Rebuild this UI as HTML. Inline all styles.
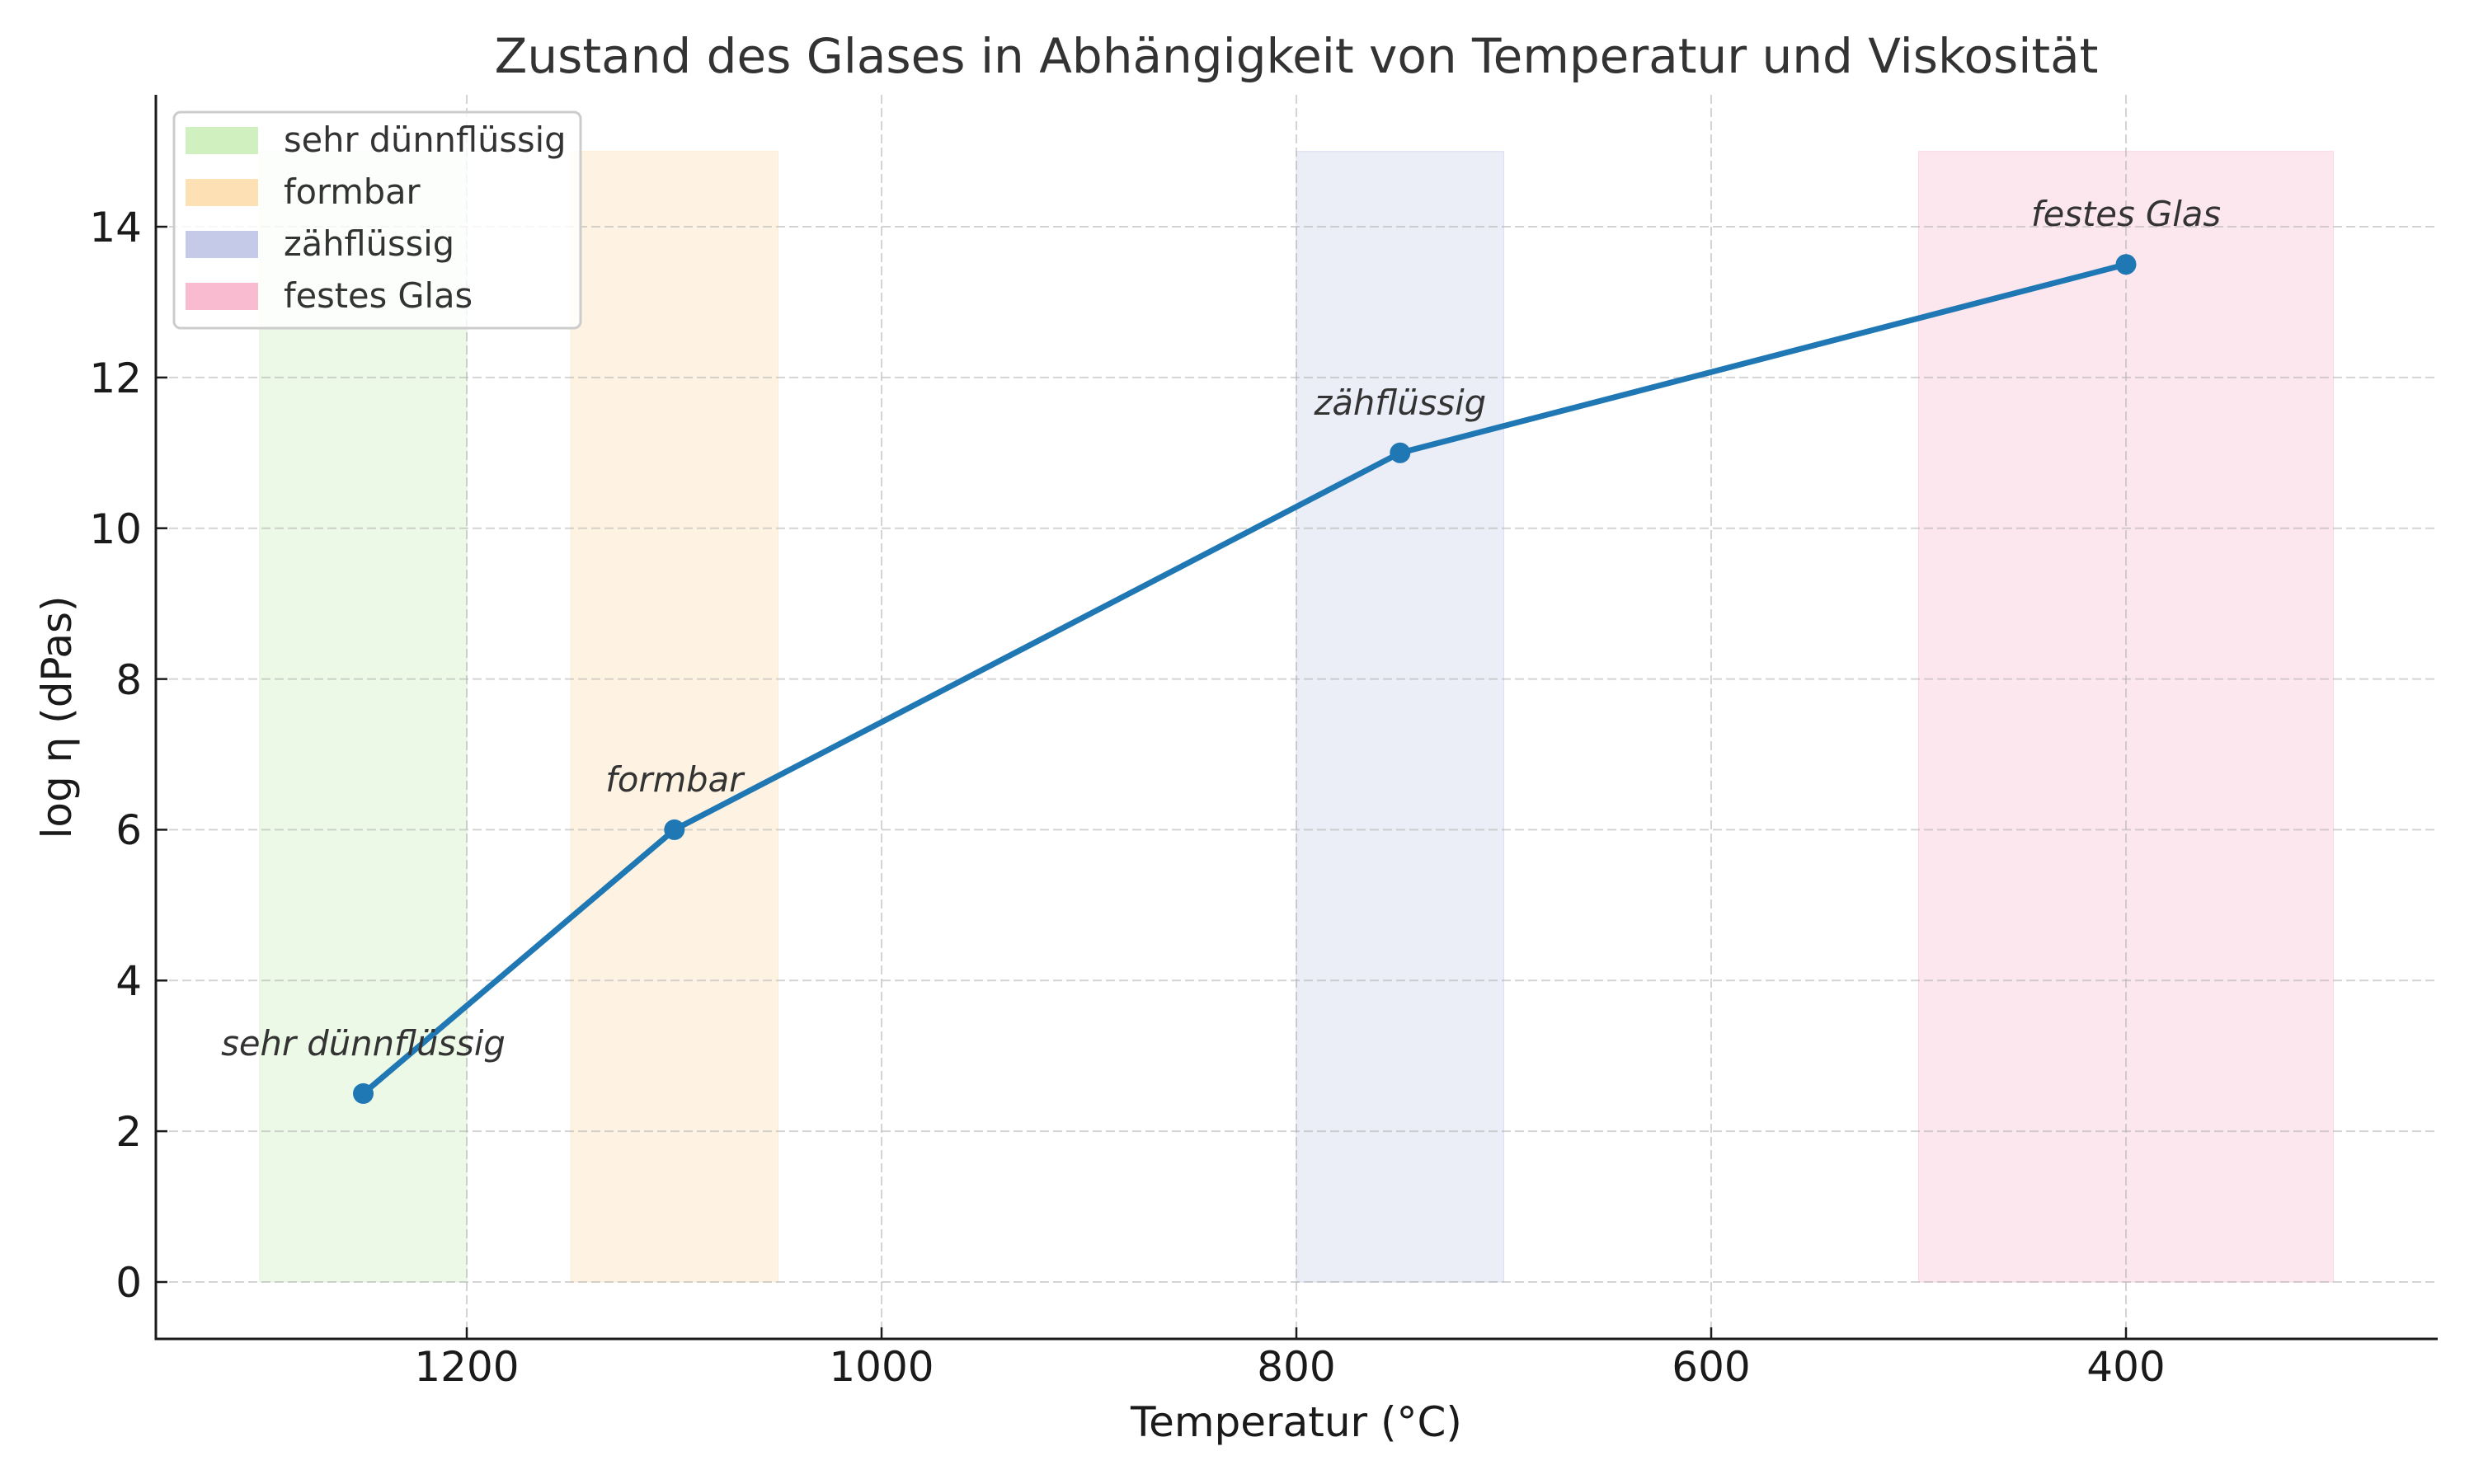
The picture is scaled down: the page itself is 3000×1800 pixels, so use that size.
<!DOCTYPE html>
<html><head><meta charset="utf-8"><style>html,body{margin:0;padding:0;background:#fff}svg{display:block}</style></head>
<body>
<svg width="3000" height="1800" viewBox="0 0 3000 1800" xmlns="http://www.w3.org/2000/svg" font-family="DejaVu Sans, Liberation Sans, sans-serif">
<rect width="3000" height="1800" fill="#fff"/>
<rect x="314.8" y="183.6" width="251.5" height="1371.4" fill="#d0f0c0" fill-opacity="0.4" stroke="#d0f0c0" stroke-opacity="0.5"/>
<rect x="692" y="183.6" width="251.5" height="1371.4" fill="#fde2b8" fill-opacity="0.4" stroke="#fde2b8" stroke-opacity="0.5"/>
<rect x="1572" y="183.6" width="251.5" height="1371.4" fill="#c5cae9" fill-opacity="0.35" stroke="#c5cae9" stroke-opacity="0.5"/>
<rect x="2326.5" y="183.6" width="503" height="1371.4" fill="#f8bbd0" fill-opacity="0.35" stroke="#f8bbd0" stroke-opacity="0.5"/>
<g stroke="#b0b0b0" stroke-opacity="0.55" stroke-width="2" stroke-dasharray="11,5">
<line x1="566" y1="115" x2="566" y2="1624"/>
<line x1="1069" y1="115" x2="1069" y2="1624"/>
<line x1="1572" y1="115" x2="1572" y2="1624"/>
<line x1="2075" y1="115" x2="2075" y2="1624"/>
<line x1="2578" y1="115" x2="2578" y2="1624"/>
<line x1="189" y1="1555" x2="2956" y2="1555"/>
<line x1="189" y1="1372.1" x2="2956" y2="1372.1"/>
<line x1="189" y1="1189.3" x2="2956" y2="1189.3"/>
<line x1="189" y1="1006.4" x2="2956" y2="1006.4"/>
<line x1="189" y1="823.6" x2="2956" y2="823.6"/>
<line x1="189" y1="640.7" x2="2956" y2="640.7"/>
<line x1="189" y1="457.9" x2="2956" y2="457.9"/>
<line x1="189" y1="275" x2="2956" y2="275"/>
</g>
<polyline points="440.5,1326.4 817.8,1006.4 1697.8,549.3 2578,320.7" fill="none" stroke="#1f77b4" stroke-width="7" stroke-linejoin="round" stroke-linecap="round"/>
<g fill="#1f77b4">
<circle cx="440.5" cy="1326.4" r="12.5"/>
<circle cx="817.8" cy="1006.4" r="12.5"/>
<circle cx="1697.8" cy="549.3" r="12.5"/>
<circle cx="2578" cy="320.7" r="12.5"/>
</g>
<g font-style="italic" font-size="41.7" fill="#333" text-anchor="middle">
<text x="440.5" y="1280">sehr dünnflüssig</text>
<text x="817.8" y="960">formbar</text>
<text x="1697.8" y="503">zähflüssig</text>
<text x="2578" y="274">festes Glas</text>
</g>
<line x1="189" y1="115" x2="189" y2="1625.5" stroke="#1a1a1a" stroke-width="3"/>
<line x1="187.5" y1="1624" x2="2956" y2="1624" stroke="#1a1a1a" stroke-width="3"/>
<g stroke="#1a1a1a" stroke-width="2.5">
<line x1="566" y1="1624" x2="566" y2="1610"/>
<line x1="1069" y1="1624" x2="1069" y2="1610"/>
<line x1="1572" y1="1624" x2="1572" y2="1610"/>
<line x1="2075" y1="1624" x2="2075" y2="1610"/>
<line x1="2578" y1="1624" x2="2578" y2="1610"/>
<line x1="189" y1="1555" x2="203" y2="1555"/>
<line x1="189" y1="1372.1" x2="203" y2="1372.1"/>
<line x1="189" y1="1189.3" x2="203" y2="1189.3"/>
<line x1="189" y1="1006.4" x2="203" y2="1006.4"/>
<line x1="189" y1="823.6" x2="203" y2="823.6"/>
<line x1="189" y1="640.7" x2="203" y2="640.7"/>
<line x1="189" y1="457.9" x2="203" y2="457.9"/>
<line x1="189" y1="275" x2="203" y2="275"/>
</g>
<g font-size="50" fill="#1a1a1a" text-anchor="middle">
<text x="566" y="1675">1200</text>
<text x="1069" y="1675">1000</text>
<text x="1572" y="1675">800</text>
<text x="2075" y="1675">600</text>
<text x="2578" y="1675">400</text>
</g>
<g font-size="50" fill="#1a1a1a" text-anchor="end">
<text x="172" y="1573">0</text>
<text x="172" y="1390">2</text>
<text x="172" y="1207">4</text>
<text x="172" y="1024">6</text>
<text x="172" y="842">8</text>
<text x="172" y="659">10</text>
<text x="172" y="476">12</text>
<text x="172" y="293">14</text>
</g>
<text x="1572" y="1742" font-size="50" fill="#1a1a1a" text-anchor="middle">Temperatur (°C)</text>
<text transform="translate(86,870) rotate(-90)" font-size="50" fill="#1a1a1a" text-anchor="middle">log η (dPas)</text>
<text x="1572" y="88" font-size="58" fill="#333" text-anchor="middle">Zustand des Glases in Abhängigkeit von Temperatur und Viskosität</text>
<rect x="211" y="136" width="493" height="262" rx="8" fill="#fff" fill-opacity="0.8" stroke="#cccccc" stroke-width="3"/>
<rect x="225" y="154" width="88" height="33" fill="#d0f0c0"/>
<rect x="225" y="217" width="88" height="33" fill="#fde0b4"/>
<rect x="225" y="280" width="88" height="33" fill="#c5cae9"/>
<rect x="225" y="343" width="88" height="33" fill="#f8bbd0"/>
<g font-size="41.5" fill="#333">
<text x="344" y="184">sehr dünnflüssig</text>
<text x="344" y="247">formbar</text>
<text x="344" y="310">zähflüssig</text>
<text x="344" y="373">festes Glas</text>
</g>
</svg>
</body></html>
